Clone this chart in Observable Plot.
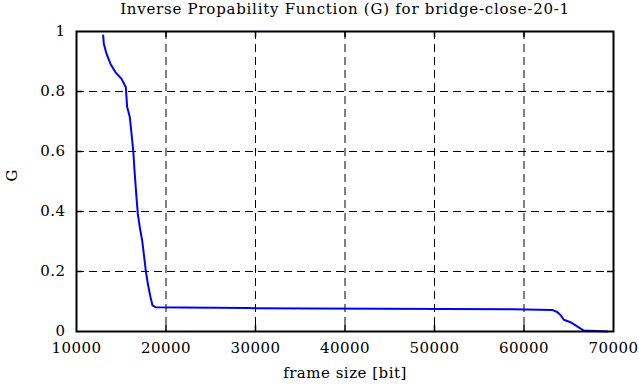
<!DOCTYPE html>
<html>
<head>
<meta charset="utf-8">
<script src="https://cdn.jsdelivr.net/npm/d3@7"></script>
<script src="https://cdn.jsdelivr.net/npm/@observablehq/plot@0.6"></script>
<style>
  html, body { margin: 0; padding: 0; background: #fff; }
  #chart svg { display: block; }
  #chart svg text { letter-spacing: 0.5px; }
  #chart svg .title text { letter-spacing: 0.75px; }
</style>
</head>
<body>
<div id="chart"></div>
<script>
// Chart values
const title = "Inverse Propability Function (G) for bridge-close-20-1";
const xLabel = "frame size [bit]";
const yLabel = "G";
const xTicks = [10000, 20000, 30000, 40000, 50000, 60000, 70000];
const yTicks = [0, 0.2, 0.4, 0.6, 0.8, 1];
const yTickLabels = ["0", "0.2", "0.4", "0.6", "0.8", "1"];
const frameSize = [12980, 13050, 13350, 13800, 14360, 15030, 15510, 15660, 15960, 16110, 16340, 16480, 16700, 16850, 17070, 17340, 17520, 17740, 17970, 18270, 18490, 18830, 21700, 29100, 36500, 44000, 51300, 58800, 63150, 63700, 64080, 64450, 65200, 65940, 66680, 69290];
const gValue = [0.987, 0.959, 0.926, 0.892, 0.864, 0.842, 0.814, 0.748, 0.714, 0.670, 0.603, 0.537, 0.448, 0.392, 0.348, 0.303, 0.259, 0.203, 0.159, 0.114, 0.087, 0.081, 0.080, 0.078, 0.077, 0.076, 0.075, 0.074, 0.072, 0.065, 0.055, 0.039, 0.031, 0.017, 0.003, 0.000];

const data = frameSize.map((x, i) => ({x, g: gValue[i]}));
const font = "'DejaVu Serif', 'Liberation Serif', serif";
const gridX = xTicks.slice(1, -1);
const gridY = yTicks.slice(1, -1);

const chart = Plot.plot({
  width: 639,
  height: 387,
  marginLeft: 76,
  marginRight: 26,
  marginTop: 31,
  marginBottom: 56,
  style: {fontFamily: font, fontSize: "15px", color: "black", background: "white"},
  x: {domain: [10000, 70000]},
  y: {domain: [0, 1]},
  marks: [
    Plot.ruleX(gridX, {stroke: "black", strokeWidth: 1, strokeDasharray: "8,5", strokeOpacity: 1}),
    Plot.ruleY(gridY, {stroke: "black", strokeWidth: 1, strokeDasharray: "8,5", strokeOpacity: 1}),
    Plot.ruleX(gridX, {stroke: "black", strokeWidth: 1.5, insetTop: 294}),
    Plot.ruleX(gridX, {stroke: "black", strokeWidth: 1.5, insetBottom: 294}),
    Plot.ruleY(gridY, {stroke: "black", strokeWidth: 1.5, insetRight: 531}),
    Plot.ruleY(gridY, {stroke: "black", strokeWidth: 1.5, insetLeft: 531}),
    Plot.line(data, {x: "x", y: "g", stroke: "#0000ff", strokeWidth: 2}),
    Plot.frame({stroke: "black", strokeWidth: 2}),
    Plot.axisX({ticks: xTicks, tickSize: 0, tickPadding: 11, tickFormat: d => String(d), label: null, fontSize: 15, fill: "black"}),
    Plot.axisY({ticks: yTicks, tickSize: 0, tickPadding: 11, tickFormat: (d, i) => yTickLabels[i], label: null, fontSize: 15, fill: "black"}),
    Plot.text([title], {frameAnchor: "top", dy: -28, fontSize: 15, fill: "black", className: "title"}),
    Plot.text([xLabel], {frameAnchor: "bottom", dy: 46, fontSize: 15, fill: "black"}),
    Plot.text([yLabel], {frameAnchor: "left", dx: -64, rotate: -90, fontSize: 15, fill: "black"})
  ]
});
document.getElementById("chart").appendChild(chart);
</script>
</body>
</html>
